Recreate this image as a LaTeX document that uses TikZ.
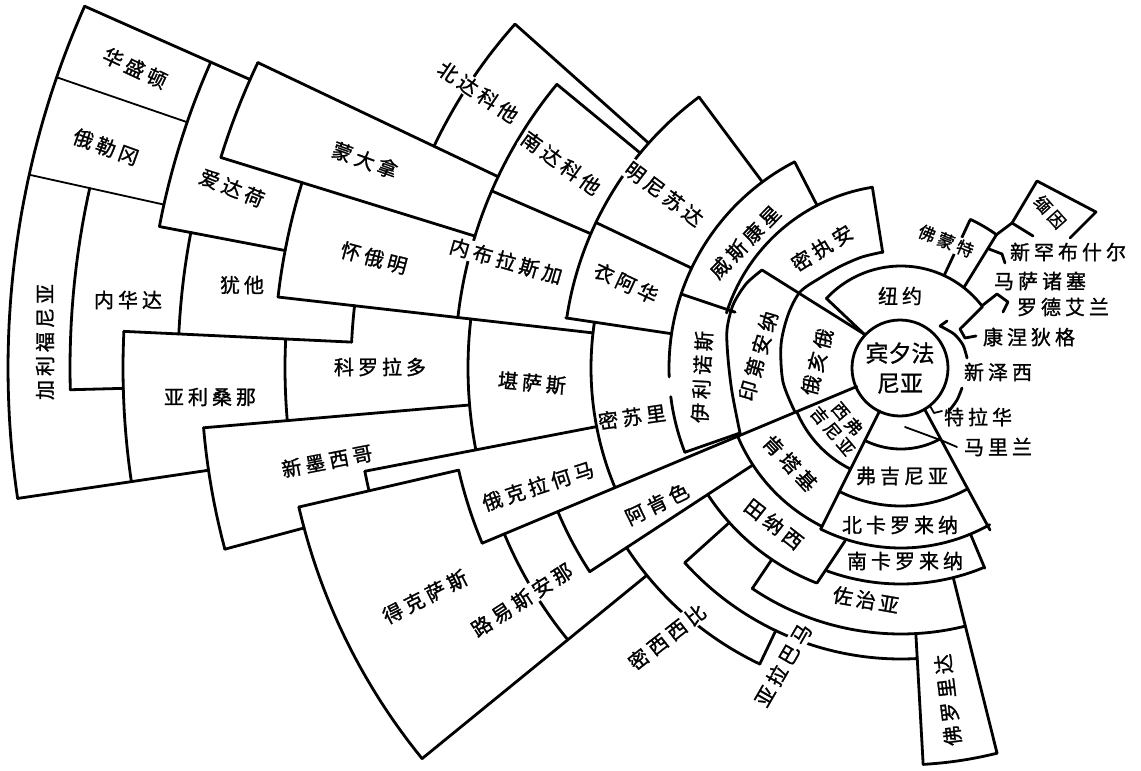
\documentclass[tikz,border=0pt]{standalone}
\usepackage{fontspec}
\newfontfamily\cjk[LetterSpace=20,FakeBold=1.2]{Noto Sans CJK SC}
\newfontfamily\cjkn[FakeBold=1.2]{Noto Sans CJK SC}
\newcommand\pp[2]{({901+(#2)*cos(#1)},{368+(#2)*sin(#1)})}
\newcommand\arcc[3]{plot[domain=#1:#2,samples=50,variable=\q]({901+(#3)*cos(\q)},{368+(#3)*sin(\q)})}
\begin{document}
\begin{tikzpicture}[x=1pt,y=-1pt,
  bd/.style={line width=2.8pt,line cap=round,line join=round},
  tn/.style={line width=1.8pt,line cap=round,line join=round},
  lab/.style={font=\cjk\fontsize{20}{23}\selectfont,inner sep=1pt},
  wlab/.style={lab,fill=white},
  sm/.style={font=\cjk\fontsize{17}{19}\selectfont}]
\useasboundingbox (0,0) rectangle (1141,771);
% ---------- ring around Pennsylvania ----------
\node[circle,draw,line width=2.8pt,minimum size=96pt,inner sep=0pt,align=center,
  font=\cjkn\fontsize{23}{30}\selectfont] (pa) at (900,368) {宾夕法\\尼亚};
% New York
\draw[bd] (864,334) -- \pp{-137}{102};
\draw[bd] \arcc{-137}{-37}{102};
\draw[bd] \pp{-37}{102} -- (960,329) -- (965,338) -- (976,336);
% Ohio top line
\draw[bd] (864,334) -- (762,270);
% Michigan
\draw[bd] \pp{-99}{117} -- \pp{-99}{183};
\draw[bd] \arcc{-162.5}{-99}{183};
\draw[bd] \pp{-117.3}{183} -- \pp{-117.3}{232};
\draw[bd] plot[smooth] coordinates {(883,252) (862,257) (841,266) (820,278) (800,292) (788,315) (781,345) (783,382) (795,412)};
% Indiana outer
\draw[bd] plot[smooth] coordinates {(762,270) (746,284) (733,305) (727,330) (728,358) (732,392) (740,433)};
% Wisconsin bottom
\draw[bd] \pp{-161.4}{175} -- \pp{-161.4}{232};
% big arc r=232
\draw[bd] \arcc{-182.2}{-117.3}{232};
\draw[bd] \arcc{-201.3}{-187.1}{232};
% Illinois bottom
\draw[bd] (740,433) -- \pp{158.7}{232};
% long radial line
\draw[bd] \pp{157.3}{48} -- \pp{157.3}{454};
% West Virginia / Kentucky
\draw[bd] \arcc{116.5}{157.3}{113};
\draw[bd] \pp{116.5}{48} -- \pp{116.5}{180};
\draw[bd] \arcc{116.5}{157.3}{177};
% east radial line
\draw[bd] (925,410) -- (990,530);
% Virginia, Carolinas
\draw[bd] \arcc{62}{116.5}{81};
\draw[bd] \arcc{61}{116.5}{138};
\draw[bd] \arcc{60.5}{116.5}{180};
\draw[bd] (845,541) -- (817,583);
\draw[bd] \pp{67.3}{180} -- \pp{67.3}{217};
\draw[bd] \arcc{67.3}{110}{216};
% Tennessee, Alabama, Mississippi
\draw[bd] \arcc{111.5}{146.8}{231};
\draw[bd] \pp{146.8}{177} -- \pp{146.8}{372};
\draw[bd] \pp{138}{231} -- \pp{138}{291};
\draw[bd] \arcc{86.8}{138}{291};
\draw[bd] \arcc{115.5}{146.8}{328};
\draw[bd] \pp{115.5}{291} -- \pp{115.5}{328};
% Georgia, Florida
\draw[bd] \pp{124}{231} -- \pp{124}{266};
\draw[bd] \arcc{76}{124}{266};
\draw[bd] \pp{76}{216} -- \pp{76}{397};
\draw[bd] \pp{86.8}{266} -- \pp{86.8}{397};
\draw[bd] \arcc{76}{86.8}{397};
% Missouri, Iowa, Minnesota, Dakotas
\draw[bd] \arcc{157.3}{188.5}{310};
\draw[bd] \pp{-171.5}{232} -- \pp{-171.5}{339};
\draw[bd] \arcc{-171.5}{-126.7}{338};
\draw[bd] \pp{-126.7}{232} -- \pp{-126.7}{338};
\draw[bd] \pp{-154.5}{232} -- \pp{-154.5}{338};
\draw[bd] \pp{-138.3}{338} -- \pp{-138.3}{517};
\draw[bd] \pp{-140.5}{338} -- \pp{-140.5}{446};
\draw[bd] \pp{-156.6}{338} -- \pp{-156.6}{446};
\draw[bd] \arcc{-173.5}{-140.5}{446};
% Kansas, Oklahoma, Texas, Louisiana, Arkansas
\draw[bd] \pp{-173.5}{310} -- \pp{-173.5}{627};
\draw[bd] \arcc{169.1}{186.5}{433};
\draw[bd] \pp{169.1}{310} -- \pp{169.1}{546};
\draw[bd] \arcc{167}{169.1}{546};
\draw[bd] \pp{167}{454} -- \pp{167}{618};
\draw[bd] \arcc{157.3}{167}{454};
\draw[bd] \arcc{140.8}{167}{618};
\draw[bd] \arcc{140.8}{157.3}{430};
\draw[bd] \pp{140.8}{328} -- \pp{140.8}{618};
\draw[bd] \arcc{146.8}{157.3}{372};
% Colorado, New Mexico, Arizona, Utah
\draw[bd] \arcc{175.1}{182.7}{616};
\draw[bd] \pp{175.1}{433} -- \pp{175.1}{700};
\draw[bd] \arcc{165}{175.1}{700};
\draw[bd] \pp{165}{618} -- \pp{165}{700};
\draw[bd] \pp{182.7}{550} -- \pp{182.7}{778};
\draw[bd] \arcc{182.7}{186.5}{550};
\draw[bd] \arcc{171.6}{182.7}{778};
\draw[bd] \pp{171.6}{700} -- \pp{171.6}{893};
% Nevada, Utah, Idaho, Wyoming, Montana
\draw[bd] \pp{178.5}{778} -- \pp{178.5}{831};
\draw[bd] \arcc{178.5}{192.5}{831};
\draw[bd] \arcc{182.7}{190.8}{723};
\draw[bd] \pp{190.8}{627} -- \pp{190.8}{755};
\draw[bd] \arcc{186.5}{197.2}{627};
\draw[bd] \pp{197.2}{446} -- \pp{197.2}{712};
\draw[bd] \arcc{197.2}{205.4}{712};
\draw[bd] \pp{205.4}{446} -- \pp{205.4}{712};
\draw[bd] \arcc{205.4}{221.7}{517};
\draw[bd] \arcc{190.8}{203.9}{755};
% Pacific states
\draw[bd] \pp{203.9}{712} -- \pp{203.9}{893};
\draw[tn] \pp{199}{755} -- \pp{199}{893};
\draw[tn] \pp{192.5}{755} -- \pp{192.5}{893};
\draw[bd] \arcc{171.6}{203.9}{893};
% New England
\draw[bd] \pp{-65}{102} -- \pp{-65}{163};
\draw[bd] \arcc{-65}{-54.4}{164};
\draw[bd] \pp{-54.4}{164} -- \pp{-52}{102};
\draw[bd] (996,235) -- (1012,223) -- (1037,181) -- (1096,212) -- (1070,238);
\draw[bd] (1012,223) -- (1033,236);
\draw[bd] (989,249) -- (1002,254) -- (1005,263);
\draw[bd] (983,305) -- (997,294) -- (1008,302) -- (1003,312);
% New Jersey, Delaware, Maryland
\draw[bd] (947,321) -- (940,326);
\draw[bd] plot[smooth] coordinates {(940,326) (954,334) (963,345) (967,358)};
\draw[bd] plot[smooth] coordinates {(962,388) (957,400) (949,411)};
\draw[tn] (930,406) -- (934,413) -- (942,411);
\draw[tn] (905,427) -- (943,441) -- (957,447);
% ---------- labels ----------
\node[lab] (ny) at (900,296) {纽约};
\node[lab] (nj) at (998,372) {新泽西};
\node[lab] (de) at (978,417) {特拉华};
\node[lab] (md) at (998,447) {马里兰};
\node[lab] (ct) at (1029,337) {康涅狄格};
\node[lab] (ri) at (1063,307) {罗德艾兰};
\node[lab] (ma) at (1040,281) {马萨诸塞};
\node[lab] (nh) at (1068,252) {新罕布什尔};
\node[lab,sm,rotate=-48] (me) at (1050,212) {缅因};
\node[wlab,sm,rotate=-22] (vt) at (946,241) {佛蒙特};
\node[lab,rotate=32] (mi) at (822,248) {密执安};
\node[lab,rotate=46] (wi) at (745,242) {威斯康星};
\node[lab,rotate=75] (oh) at (817,362) {俄亥俄};
\node[lab,rotate=74] (in) at (758,356) {印第安纳};
\node[lab,rotate=87] (il) at (702,377) {伊利诺斯};
\node[lab,rotate=-50,align=center,font=\cjk\fontsize{17}{19}\selectfont] (wv) at (840,425) {西弗\\吉尼亚};
\node[lab,rotate=-47] (ky) at (790,463) {肯塔基};
\node[lab] (va) at (902,476) {弗吉尼亚};
\node[lab] (nc) at (900,525) {北卡罗来纳};
\node[lab] (sc) at (905,561) {南卡罗来纳};
\node[lab,rotate=-10] (ga) at (866,600) {佐\,治\,亚};
\node[lab,rotate=-38] (tn) at (774,524) {田纳西};
\node[lab,rotate=97] (fl) at (948,700) {佛罗里达};
\node[wlab,rotate=60] (al) at (783,665) {亚拉巴马};
\node[wlab,rotate=38] (ms) at (667,637) {密西西比};
\node[lab,rotate=26] (ar) at (657,504) {阿肯色};
\node[wlab,rotate=33] (la) at (522,600) {路易斯安那};
\node[lab,rotate=18] (ok) at (538,486) {俄克拉何马};
\node[lab,rotate=27] (tx) at (425,597) {得克萨斯};
\node[lab,rotate=8] (mo) at (632,417) {密苏里};
\node[lab,rotate=-5] (ks) at (532,383) {堪萨斯};
\node[lab,rotate=-25] (ia) at (626,283) {衣阿华};
\node[wlab,rotate=-37] (mn) at (664,194) {明尼苏达};
\node[wlab,rotate=-36] (sd) at (561,163) {南达科他};
\node[wlab,rotate=-34] (nd) at (478,92) {北达科他};
\node[wlab,rotate=-16] (ne) at (506,261) {内布拉斯加};
\node[lab,rotate=-20] (mt) at (365,160) {蒙大拿};
\node[lab,rotate=-15] (wy) at (374,258) {怀俄明};
\node[lab] (co) at (380,367) {科罗拉多};
\node[lab,rotate=11] (nm) at (327,461) {新墨西哥};
\node[lab] (ut) at (242,285) {犹他};
\node[lab,rotate=-22] (id) at (232,188) {爱达荷};
\node[lab] (nv) at (128,300) {内华达};
\node[lab] (az) at (210,397) {亚利桑那};
\node[lab,rotate=90] (ca) at (45,342) {加利福尼亚};
\node[lab,rotate=-20] (or) at (106,147) {俄勒冈};
\node[lab,rotate=-25] (wa) at (135,68) {华盛顿};
\end{tikzpicture}
\end{document}
